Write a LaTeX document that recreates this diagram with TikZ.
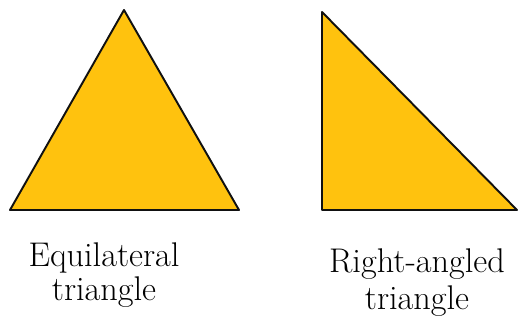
\documentclass[tikz,border=0pt]{standalone}
\usepackage{tikz}
\usepackage{xcolor}
\definecolor{triyellow}{HTML}{FFC20E}
\definecolor{triedge}{HTML}{111111}
\tikzset{
  trishape/.style={
    draw=triedge,
    fill=triyellow,
    line width=1.1pt,
    line join=round
  },
  trilabel/.style={
    anchor=north,
    inner sep=0pt,
    align=center,
    font=\fontsize{19.5}{19.5}\selectfont
  }
}

\begin{document}
\begin{tikzpicture}[x=0.02cm, y=-0.02cm]
\useasboundingbox (0,0) rectangle (519,320);
% equilateral
\coordinate (eqtop) at (124,10);
\coordinate (eqleft) at (10,210);
\coordinate (eqright) at (239,210);
\draw[trishape] (eqtop) -- (eqleft) -- (eqright) -- cycle;
% right-angled
\coordinate (rttop) at (322,12);
\coordinate (rtcorner) at (322,210);
\coordinate (rtright) at (517,210);
\draw[trishape] (rttop) -- (rtcorner) -- (rtright) -- cycle;
% labels
\node[trilabel] (eqlabel) at (104,242) {Equilateral\\triangle};
\node[trilabel] (rtlabel) at (417,248) {Right-angled\\[2pt]triangle};
\end{tikzpicture}
\end{document}
